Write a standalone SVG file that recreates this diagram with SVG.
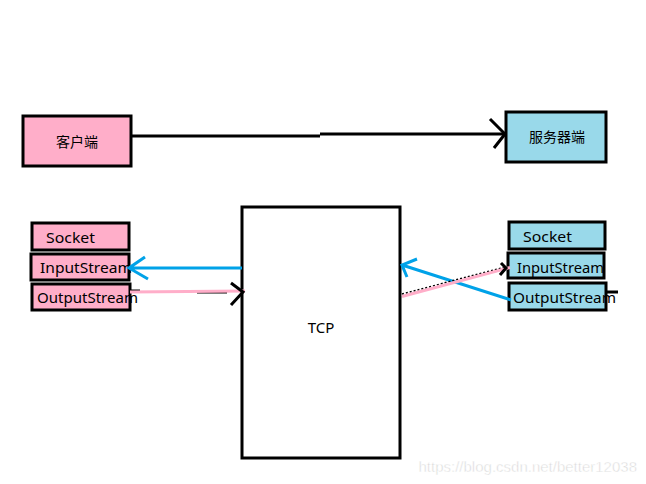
<svg xmlns="http://www.w3.org/2000/svg" width="646" height="484" viewBox="0 0 646 484">
<style>
.box{stroke:#000;stroke-width:3}
.pink{fill:#ffaec9}
.blue{fill:#99d9ea}
.t{font-family:"Noto Sans","Noto Sans CJK SC",sans-serif;font-size:15px;fill:#000}
.cjk{font-family:"Noto Sans CJK SC",sans-serif;font-size:14px;fill:#000}
.bl{stroke:#00a2e8;stroke-width:3;fill:none}
.pk{stroke:#ffaec9;stroke-width:3;fill:none}
.k{stroke:#000;stroke-width:3;fill:none}
</style>
<rect width="646" height="484" fill="#fff"/>
<g id="client">
<rect class="box pink" x="23" y="116" width="108" height="50"/>
<text class="cjk" x="77" y="147" text-anchor="middle">客户端</text>
</g>
<g id="server">
<rect class="box blue" x="506" y="112" width="100" height="50"/>
<text class="cjk" x="557" y="142" text-anchor="middle">服务器端</text>
</g>
<g id="tcp">
<rect class="box" fill="#fff" x="242" y="207" width="158" height="251"/>
<text class="t" x="321" y="333" text-anchor="middle">TCP</text>
</g>
<g id="client-socket">
<rect class="box pink" x="32" y="223" width="97" height="27"/>
<text class="t" x="46" y="243" textLength="49" lengthAdjust="spacingAndGlyphs">Socket</text>
</g>
<g id="client-input">
<rect class="box pink" x="31" y="254" width="98" height="26"/>
<text class="t" x="40" y="273" textLength="92" lengthAdjust="spacingAndGlyphs">InputStream</text>
</g>
<g id="client-output">
<rect class="box pink" x="32" y="284" width="98" height="26"/>
<text class="t" x="37" y="303" textLength="101" lengthAdjust="spacingAndGlyphs">OutputStream</text>
</g>
<g id="server-socket">
<rect class="box blue" x="509" y="222" width="96" height="27"/>
<text class="t" x="523" y="242" textLength="49" lengthAdjust="spacingAndGlyphs">Socket</text>
</g>
<g id="server-input">
<rect class="box blue" x="508" y="253" width="96" height="25"/>
<text class="t" x="517" y="273" textLength="87" lengthAdjust="spacingAndGlyphs">InputStream</text>
</g>
<g id="server-output">
<rect class="box blue" x="509" y="283" width="97" height="27"/>
<text class="t" x="513" y="303" textLength="103" lengthAdjust="spacingAndGlyphs">OutputStream</text>
</g>
<g id="connectors">
<path class="k" d="M131 136 L320 136 M320 134 L505 134"/>
<path class="k" d="M490 119 L505 134 L494 148"/>
<path class="bl" d="M242 268 L129 268 M145 257 L129 268 L148 279"/>
<path class="k" d="M130 291 L140 291 M197 292 L227 292" stroke-width="2"/>
<path class="pk" d="M130 292 L245 291"/>
<path class="k" d="M231 283 L243 292 L231 305"/>
<path class="bl" d="M511 300 L402 265 M417 259 L402 265 L407 277"/>
<path d="M402 294 L505 267" stroke="#000" stroke-width="1.5" stroke-dasharray="2 2" fill="none"/>
<path class="pk" d="M402 296.5 L510 267.5"/>
<path class="k" d="M501 263 L506 268 L500 275" stroke-width="2"/>
<path class="k" d="M606 292 L618 292" stroke-width="2"/>
</g>
<text x="637" y="472" text-anchor="end" font-family="Liberation Sans,Arial,sans-serif" font-size="15" fill="#d6d6d6" stroke="#fff" stroke-width="0.5">https://blog.csdn.net/better12038</text>
</svg>
